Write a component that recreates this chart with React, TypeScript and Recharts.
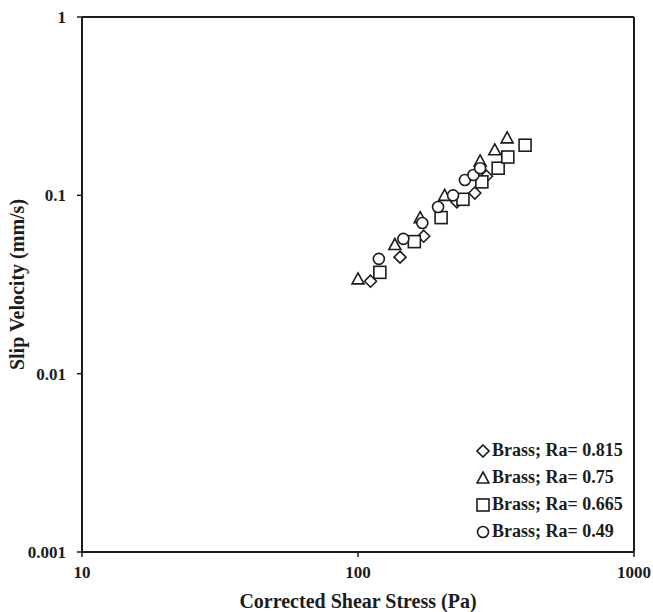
import {
  Label,
  ReferenceLine,
  Scatter,
  ScatterChart,
  XAxis,
  YAxis,
} from "recharts";

// shear stress (Pa) / slip velocity (mm/s)
const ra815Stress = [111, 142, 173, 228, 265, 292];
const ra815Slip = [0.033, 0.045, 0.059, 0.092, 0.103, 0.128];

const ra75Stress = [100, 136, 168, 206, 277, 313, 347];
const ra75Slip = [0.034, 0.053, 0.075, 0.1, 0.156, 0.18, 0.21];

const ra665Stress = [120, 160, 200, 240, 281, 322, 349, 403];
const ra665Slip = [0.037, 0.055, 0.075, 0.095, 0.119, 0.142, 0.164, 0.191];

const ra49Stress = [119, 146, 171, 195, 221, 244, 262, 277];
const ra49Slip = [0.044, 0.057, 0.07, 0.086, 0.1, 0.122, 0.13, 0.142];

const xTicks = [10, 100, 1000];
const yTicks = [0.001, 0.01, 0.1, 1];

const INK = "#1c1c1c";
const FONT = '"Liberation Serif", "Times New Roman", serif';

type Shape = "diamond" | "triangle" | "square" | "circle";

const toPoints = (xs: number[], ys: number[]) =>
  xs.map((x, i) => ({ stress: x, slip: ys[i] }));

const series: { name: string; shape: Shape; data: { stress: number; slip: number }[] }[] = [
  { name: "Brass; Ra= 0.815", shape: "diamond", data: toPoints(ra815Stress, ra815Slip) },
  { name: "Brass; Ra= 0.75", shape: "triangle", data: toPoints(ra75Stress, ra75Slip) },
  { name: "Brass; Ra= 0.665", shape: "square", data: toPoints(ra665Stress, ra665Slip) },
  { name: "Brass; Ra= 0.49", shape: "circle", data: toPoints(ra49Stress, ra49Slip) },
];

function Glyph({ shape, cx, cy }: { shape: Shape; cx: number; cy: number }) {
  const common = { fill: "#fff", stroke: INK, strokeWidth: 1.6 };
  if (shape === "circle") return <circle cx={cx} cy={cy} r={5.5} {...common} />;
  if (shape === "square")
    return <rect x={cx - 6} y={cy - 6} width={12} height={12} {...common} />;
  if (shape === "triangle")
    return (
      <polygon
        points={`${cx},${cy - 6} ${cx + 6},${cy + 5} ${cx - 6},${cy + 5}`}
        {...common}
      />
    );
  return (
    <polygon
      points={`${cx},${cy - 6} ${cx + 6},${cy} ${cx},${cy + 6} ${cx - 6},${cy}`}
      {...common}
    />
  );
}

// legend drawn as an overlay so it doesn't eat into the plot area
function LegendBox() {
  return (
    <div
      style={{
        position: "absolute",
        left: 476,
        top: 437,
        fontFamily: FONT,
        fontWeight: "bold",
        fontSize: 18,
        color: INK,
      }}
    >
      {series.map((s) => (
        <div key={s.name} style={{ display: "flex", alignItems: "center", height: 27 }}>
          <svg width={14} height={14} style={{ marginRight: 2 }}>
            <Glyph shape={s.shape} cx={7} cy={7} />
          </svg>
          {s.name}
        </div>
      ))}
    </div>
  );
}

const tickStyle = { fill: INK, fontSize: 17, fontWeight: "bold", fontFamily: FONT };

export default function App() {
  return (
    <div style={{ position: "absolute", left: 0, top: 0, background: "#fff" }}>
      <ScatterChart
        width={653}
        height={612}
        margin={{ top: 17, right: 19, left: 0, bottom: 0 }}
      >
        <XAxis
          type="number"
          dataKey="stress"
          scale="log"
          domain={[10, 1000]}
          ticks={xTicks}
          allowDataOverflow
          height={60}
          axisLine={{ stroke: INK, strokeWidth: 2 }}
          tickLine={{ stroke: INK, strokeWidth: 1.5 }}
          tickSize={5}
          tickMargin={9}
          tick={tickStyle}
        >
          <Label
            content={({ viewBox }: any) => (
              <text
                x={viewBox.x + viewBox.width / 2}
                y={viewBox.y + 56}
                textAnchor="middle"
                fill={INK}
                fontSize={20}
                fontWeight="bold"
                fontFamily={FONT}
              >
                Corrected Shear Stress (Pa)
              </text>
            )}
          />
        </XAxis>
        <YAxis
          type="number"
          dataKey="slip"
          scale="log"
          domain={[0.001, 1]}
          ticks={yTicks}
          allowDataOverflow
          width={82}
          axisLine={{ stroke: INK, strokeWidth: 2 }}
          tickLine={{ stroke: INK, strokeWidth: 1.5 }}
          tickSize={5}
          tickMargin={11}
          tick={tickStyle}
        >
          <Label
            content={({ viewBox }: any) => {
              const x = 24;
              const y = viewBox.y + viewBox.height / 2;
              return (
                <text
                  x={x}
                  y={y}
                  transform={`rotate(-90, ${x}, ${y})`}
                  textAnchor="middle"
                  fill={INK}
                  fontSize={20}
                  fontWeight="bold"
                  fontFamily={FONT}
                >
                  Slip Velocity (mm/s)
                </text>
              );
            }}
          />
        </YAxis>
        <ReferenceLine y={1} stroke={INK} strokeWidth={2} />
        <ReferenceLine x={1000} stroke={INK} strokeWidth={2} />
        {series.map((s) => (
          <Scatter
            key={s.name}
            name={s.name}
            data={s.data}
            isAnimationActive={false}
            shape={(p: any) => <Glyph shape={s.shape} cx={p.cx} cy={p.cy} />}
          />
        ))}
      </ScatterChart>
      <LegendBox />
    </div>
  );
}
